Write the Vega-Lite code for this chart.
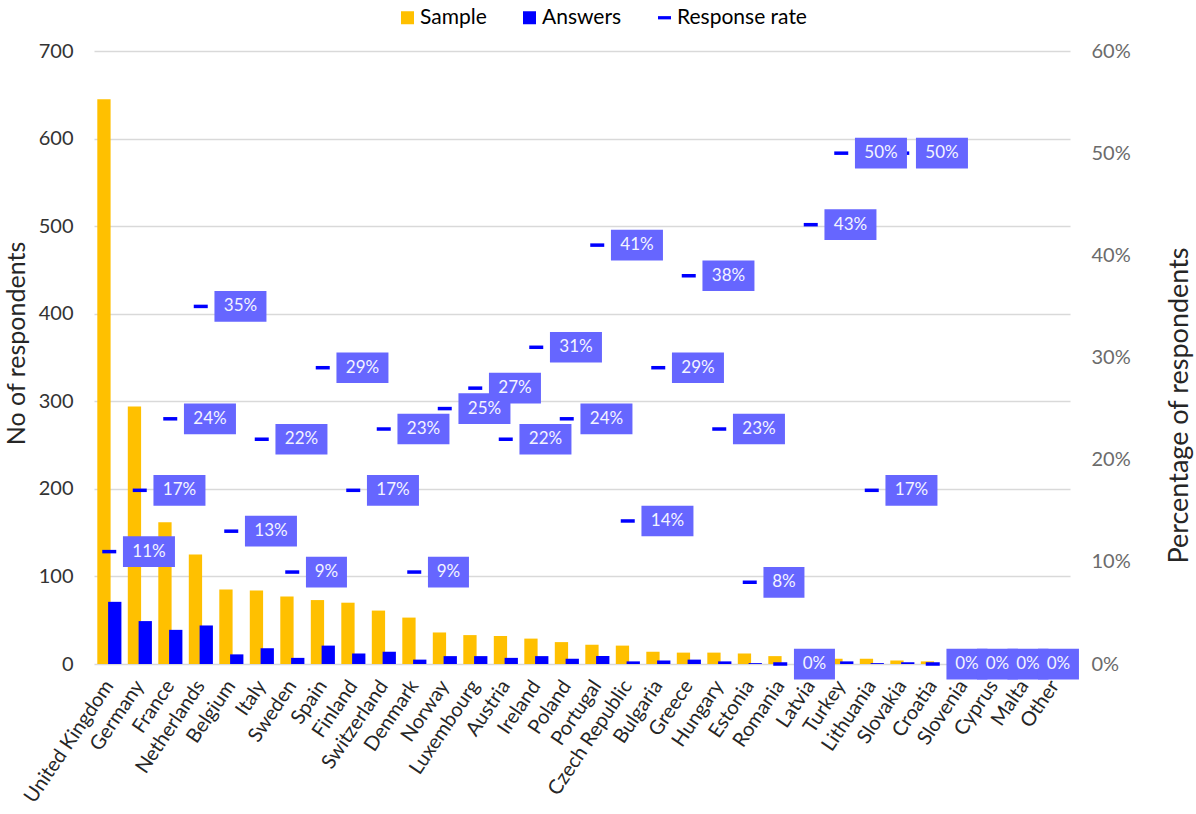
{
  "$schema": "https://vega.github.io/schema/vega-lite/v6.json",
  "width": 976,
  "height": 613,
  "autosize": {"type": "none"},
  "padding": {"left": 94, "top": 51, "right": 126, "bottom": 150},
  "config": {"font": "Lato", "view": {"stroke": null}},
  "data": {
    "values": [
      {"country": "United Kingdom", "sample": 645, "answers": 71, "rate": 0.11},
      {"country": "Germany", "sample": 294, "answers": 49, "rate": 0.17},
      {"country": "France", "sample": 162, "answers": 39, "rate": 0.24},
      {"country": "Netherlands", "sample": 125, "answers": 44, "rate": 0.35},
      {"country": "Belgium", "sample": 85, "answers": 11, "rate": 0.13},
      {"country": "Italy", "sample": 84, "answers": 18, "rate": 0.22},
      {"country": "Sweden", "sample": 77, "answers": 7, "rate": 0.09},
      {"country": "Spain", "sample": 73, "answers": 21, "rate": 0.29},
      {"country": "Finland", "sample": 70, "answers": 12, "rate": 0.17},
      {"country": "Switzerland", "sample": 61, "answers": 14, "rate": 0.23},
      {"country": "Denmark", "sample": 53, "answers": 5, "rate": 0.09},
      {"country": "Norway", "sample": 36, "answers": 9, "rate": 0.25},
      {"country": "Luxembourg", "sample": 33, "answers": 9, "rate": 0.27},
      {"country": "Austria", "sample": 32, "answers": 7, "rate": 0.22},
      {"country": "Ireland", "sample": 29, "answers": 9, "rate": 0.31},
      {"country": "Poland", "sample": 25, "answers": 6, "rate": 0.24},
      {"country": "Portugal", "sample": 22, "answers": 9, "rate": 0.41},
      {"country": "Czech Republic", "sample": 21, "answers": 3, "rate": 0.14},
      {"country": "Bulgaria", "sample": 14, "answers": 4, "rate": 0.29},
      {"country": "Greece", "sample": 13, "answers": 5, "rate": 0.38},
      {"country": "Hungary", "sample": 13, "answers": 3, "rate": 0.23},
      {"country": "Estonia", "sample": 12, "answers": 1, "rate": 0.08},
      {"country": "Romania", "sample": 9, "answers": 0, "rate": 0},
      {"country": "Latvia", "sample": 7, "answers": 3, "rate": 0.43},
      {"country": "Turkey", "sample": 6, "answers": 3, "rate": 0.5},
      {"country": "Lithuania", "sample": 6, "answers": 1, "rate": 0.17},
      {"country": "Slovakia", "sample": 4, "answers": 2, "rate": 0.5},
      {"country": "Croatia", "sample": 3, "answers": 0, "rate": 0},
      {"country": "Slovenia", "sample": 2, "answers": 0, "rate": 0},
      {"country": "Cyprus", "sample": 1, "answers": 0, "rate": 0},
      {"country": "Malta", "sample": 1, "answers": 0, "rate": 0},
      {"country": "Other", "sample": 0, "answers": 0, "rate": null}
    ]
  },
  "encoding": {
    "x": {
      "field": "country",
      "type": "nominal",
      "sort": null,
      "scale": {"paddingInner": 0, "paddingOuter": 0},
      "axis": {
        "title": null,
        "labelAngle": -56,
        "labelFontSize": 20,
        "labelColor": "#262626",
        "labelPadding": 18,
        "ticks": false,
        "domain": false
      }
    }
  },
  "layer": [
    {
      "encoding": {
        "color": {
          "scale": {
            "domain": ["Sample", "Answers", "Response rate"],
            "range": ["#FFC000", "#0000FF", "#0000FF"]
          },
          "legend": {
            "orient": "none",
            "legendX": 303,
            "legendY": -44,
            "direction": "horizontal",
            "title": null,
            "padding": 0,
            "symbolSize": 169,
            "labelFontSize": 21,
            "labelColor": "#000000",
            "labelOffset": 2,
            "columnPadding": 32,
            "encode": {
              "symbols": {
                "update": {
                  "shape": {"signal": "datum.value === 'Response rate' ? 'M-1,-0.25H1V0.25H-1Z' : 'square'"},
                  "fill": {"signal": "datum.value === 'Sample' ? '#FFC000' : '#0000FF'"},
                  "strokeWidth": {"value": 0},
                  "opacity": {"value": 1}
                }
              }
            }
          }
        }
      },
      "layer": [
        {
          "mark": {"type": "bar", "size": 13.3, "xOffset": -5.3},
          "encoding": {
            "y": {
              "field": "sample",
              "type": "quantitative",
              "scale": {"domain": [0, 700], "nice": false},
              "axis": {
                "values": [0, 100, 200, 300, 400, 500, 600, 700],
                "grid": true,
                "gridColor": "#D9D9D9",
                "gridWidth": 1.5,
                "ticks": false,
                "domain": false,
                "labelPadding": 21,
                "labelFontSize": 20,
                "labelColor": "#333333",
                "title": "No of respondents",
                "titleFontSize": 25,
                "titleFontWeight": "normal",
                "titleColor": "#262626",
                "titlePadding": 9,
                "titleY": 292
              }
            },
            "color": {"datum": "Sample"}
          }
        },
        {
          "mark": {"type": "bar", "size": 13.3, "xOffset": 5.5},
          "encoding": {
            "y": {
              "field": "answers",
              "type": "quantitative",
              "scale": {"domain": [0, 700], "nice": false},
              "axis": {
                "values": [0, 100, 200, 300, 400, 500, 600, 700],
                "grid": true,
                "gridColor": "#D9D9D9",
                "gridWidth": 1.5,
                "ticks": false,
                "domain": false,
                "labelPadding": 21,
                "labelFontSize": 20,
                "labelColor": "#333333",
                "title": "No of respondents",
                "titleFontSize": 25,
                "titleFontWeight": "normal",
                "titleColor": "#262626",
                "titlePadding": 9,
                "titleY": 292
              }
            },
            "color": {"datum": "Answers"}
          }
        }
      ]
    },
    {
      "encoding": {
        "y": {
          "field": "rate",
          "type": "quantitative",
          "scale": {"domain": [0, 0.6], "nice": false},
          "axis": {
            "orient": "right",
            "format": ".0%",
            "values": [0, 0.1, 0.2, 0.3, 0.4, 0.5, 0.6],
            "grid": false,
            "ticks": false,
            "domain": false,
            "labelPadding": 21,
            "labelFontSize": 20,
            "labelColor": "#6b6b6b",
            "title": "Percentage of respondents",
            "titleFontSize": 27,
            "titleFontWeight": "normal",
            "titleColor": "#262626",
            "titleAngle": 270,
            "titlePadding": 63,
            "titleY": 354
          }
        }
      },
      "layer": [
        {
          "transform": [{"filter": "datum.rate != null"}],
          "mark": {"type": "tick", "size": 14, "thickness": 3.5, "opacity": 1},
          "encoding": {"color": {"datum": "Response rate"}}
        },
        {
          "transform": [{"filter": "datum.rate != null && datum.rate < 0.095"}],
          "mark": {"type": "point", "shape": "M-1,-0.75H1V0.75H-1Z", "size": 1681, "filled": true, "color": "#6666FF", "opacity": 1, "xOffset": 34.2}
        },
        {
          "transform": [{"filter": "datum.rate != null && datum.rate >= 0.095"}],
          "mark": {"type": "point", "shape": "M-1,-0.59H1V0.59H-1Z", "size": 2704, "filled": true, "color": "#6666FF", "opacity": 1, "xOffset": 39.7}
        },
        {
          "transform": [{"filter": "datum.rate != null && datum.rate < 0.095"}],
          "mark": {"type": "text", "fontSize": 17, "color": "#F4F4FF", "align": "center", "baseline": "middle", "xOffset": 34.2},
          "encoding": {"text": {"field": "rate", "type": "quantitative", "format": ".0%"}}
        },
        {
          "transform": [{"filter": "datum.rate != null && datum.rate >= 0.095"}],
          "mark": {"type": "text", "fontSize": 17, "color": "#F4F4FF", "align": "center", "baseline": "middle", "xOffset": 39.7},
          "encoding": {"text": {"field": "rate", "type": "quantitative", "format": ".0%"}}
        }
      ]
    }
  ],
  "resolve": {"scale": {"y": "independent"}}
}
